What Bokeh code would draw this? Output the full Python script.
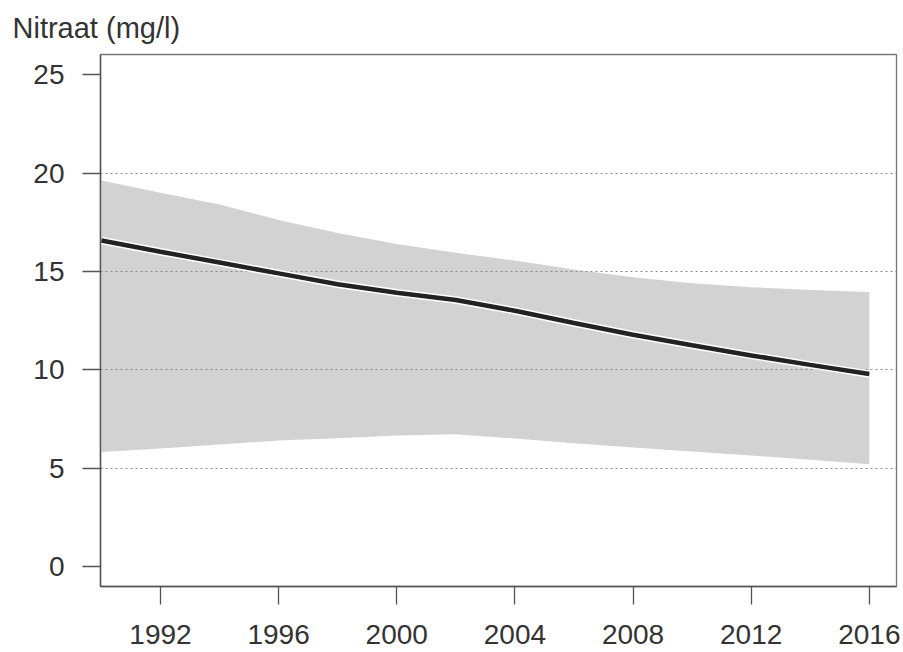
from bokeh.plotting import figure
from bokeh.models import Range1d, FixedTicker
from bokeh.embed import file_html
from bokeh.resources import INLINE

# ---- data ----
years = [1990, 1992, 1994, 1996, 1998, 2000, 2002, 2004, 2006, 2008, 2010, 2012, 2014, 2016]
trend = [16.57, 16.0, 15.45, 14.9, 14.35, 13.92, 13.55, 13.0, 12.38, 11.78, 11.25, 10.73, 10.25, 9.78]
upper = [19.62, 19.0, 18.4, 17.62, 16.95, 16.4, 15.95, 15.55, 15.1, 14.7, 14.4, 14.2, 14.05, 13.95]
lower = [5.82, 6.0, 6.2, 6.4, 6.52, 6.66, 6.72, 6.5, 6.26, 6.05, 5.85, 5.64, 5.42, 5.2]

x_ticks = [1992, 1996, 2000, 2004, 2008, 2012, 2016]
y_ticks = [0, 5, 10, 15, 20, 25]
grid_values = [5, 10, 15, 20]
y_title = "Nitraat (mg/l)"

FONT = "Liberation Sans"
TXT = "#333333"
AX = "#555555"

p = figure(width=903, height=652, output_backend="svg", toolbar_location=None,
           x_range=Range1d(1989.97, 2016.92), y_range=Range1d(-1.02, 26.03),
           min_border_left=100, min_border_right=7, min_border_top=54, min_border_bottom=66)
p.background_fill_color = "white"
p.border_fill_color = "white"
p.outline_line_color = "#777777"
p.outline_line_width = 1.3

p.title.text = y_title
p.title.align = "left"
p.title.vertical_align = "top"
p.title.offset = -88
p.title.standoff = 18
p.title.text_font = FONT
p.title.text_font_size = "29px"
p.title.text_font_style = "normal"
p.title.text_color = TXT

p.xgrid.visible = False
p.ygrid.ticker = FixedTicker(ticks=grid_values)
p.ygrid.grid_line_color = "#8a8a8a"
p.ygrid.grid_line_dash = "2 3"
p.ygrid.grid_line_width = 1.2

for ax, ticks, so in ((p.xaxis[0], x_ticks, 20), (p.yaxis[0], y_ticks, 18)):
    ax.ticker = FixedTicker(ticks=ticks)
    ax.major_label_text_font = FONT
    ax.major_label_text_font_size = "28px"
    ax.major_label_text_color = TXT
    ax.major_label_standoff = so
    ax.axis_line_color = AX
    ax.axis_line_width = 1.5
    ax.major_tick_line_color = AX
    ax.major_tick_line_width = 1.3
    ax.major_tick_out = 18
    ax.major_tick_in = 0
    ax.minor_tick_line_color = None

p.varea(x=years, y1=lower, y2=upper, fill_color="#d2d2d2", fill_alpha=1.0, level="image")
p.line(x=years, y=trend, line_color="white", line_width=7.5)
p.line(x=years, y=trend, line_color="#222222", line_width=4.5)

open("out.html", "w").write(file_html(p, INLINE))
